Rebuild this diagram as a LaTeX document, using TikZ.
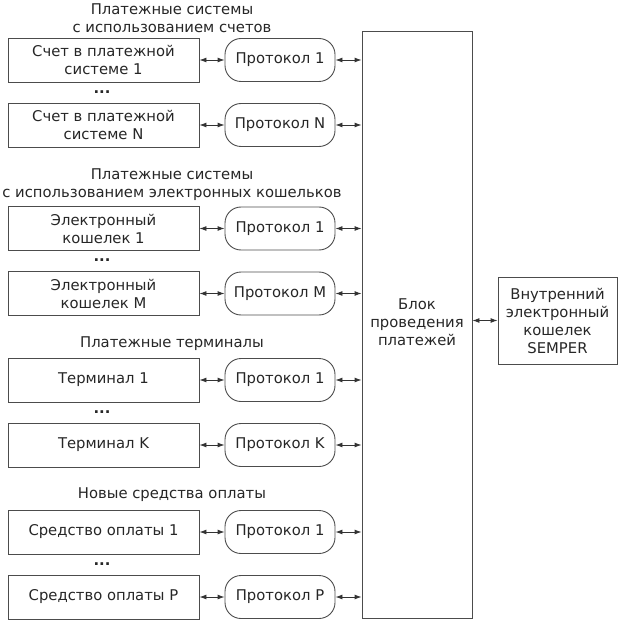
\documentclass[tikz,border=0pt]{standalone}
\usepackage{fontspec}
\setmainfont{DejaVu Sans}
\usetikzlibrary{arrows.meta}
\begin{document}
\begin{tikzpicture}[x=1pt,y=-1pt,
  every node/.style={font=\fontsize{14.8}{18}\selectfont, text=black!85, inner sep=0pt},
  srcbox/.style={draw=black!70, line width=0.9pt, minimum width=191pt, minimum height=44pt, align=center},
  pill/.style={draw=black!70, line width=0.9pt, rounded corners=16pt, minimum width=110pt, minimum height=43pt, align=center},
  blockbox/.style={draw=black!70, line width=0.9pt, align=center},
  link/.style={{Latex[length=7pt,width=5pt]}-{Latex[length=7pt,width=5pt]}, line width=0.9pt, draw=black!80},
  title/.style={align=center},
  dots/.style={font=\fontsize{14.8}{18}\selectfont\bfseries}]
\useasboundingbox (0,0) rectangle (618,620);

% titles
\node[title] (t1) at (172,18) {Платежные системы\\с использованием счетов};
\node[title] (t2) at (172,185) {Платежные системы\\с использованием электронных кошельков};
\node[title] (t3) at (172,344) {Платежные терминалы};
\node[title] (t4) at (172,495) {Новые средства оплаты};

% source boxes
\node[srcbox] (s1) at (103.5,60) {Счет в платежной\\системе 1};
\node[srcbox] (s2) at (103.5,125) {Счет в платежной\\системе N};
\node[srcbox] (s3) at (103.5,228.5) {Электронный\\кошелек 1};
\node[srcbox] (s4) at (103.5,293.5) {Электронный\\кошелек M};
\node[srcbox] (s5) at (103.5,380) {Терминал 1};
\node[srcbox] (s6) at (103.5,445) {Терминал K};
\node[srcbox] (s7) at (103.5,532) {Средство оплаты 1};
\node[srcbox] (s8) at (103.5,597) {Средство оплаты P};

% dots
\node[dots] (d1) at (102,92) {...};
\node[dots] (d2) at (102,260) {...};
\node[dots] (d3) at (102,412) {...};
\node[dots] (d4) at (102,564) {...};

% protocols
\node[pill] (p1) at (280,60) {Протокол 1};
\node[pill] (p2) at (280,125) {Протокол N};
\node[pill] (p3) at (280,228.5) {Протокол 1};
\node[pill] (p4) at (280,293.5) {Протокол M};
\node[pill] (p5) at (280,380) {Протокол 1};
\node[pill] (p6) at (280,445) {Протокол K};
\node[pill] (p7) at (280,532) {Протокол 1};
\node[pill] (p8) at (280,597) {Протокол P};

% payment block
\node[blockbox, minimum width=110pt, minimum height=587pt] (blk) at (417,324.5) {};
\node[align=center] (blktext) at (417,322) {Блок\\проведения\\платежей};

% SEMPER wallet
\node[blockbox, minimum width=119pt, minimum height=87pt] (sem) at (557.5,320.5) {Внутренний\\электронный\\кошелек\\SEMPER};

% connectors
\foreach \i in {1,...,8}{
  \draw[link] (s\i.east) -- (p\i.west);
  \draw[link] (p\i.east) -- (p\i.east -| blk.west);
}
\draw[link] (blk.east |- sem.west) -- (sem.west);
\end{tikzpicture}
\end{document}
